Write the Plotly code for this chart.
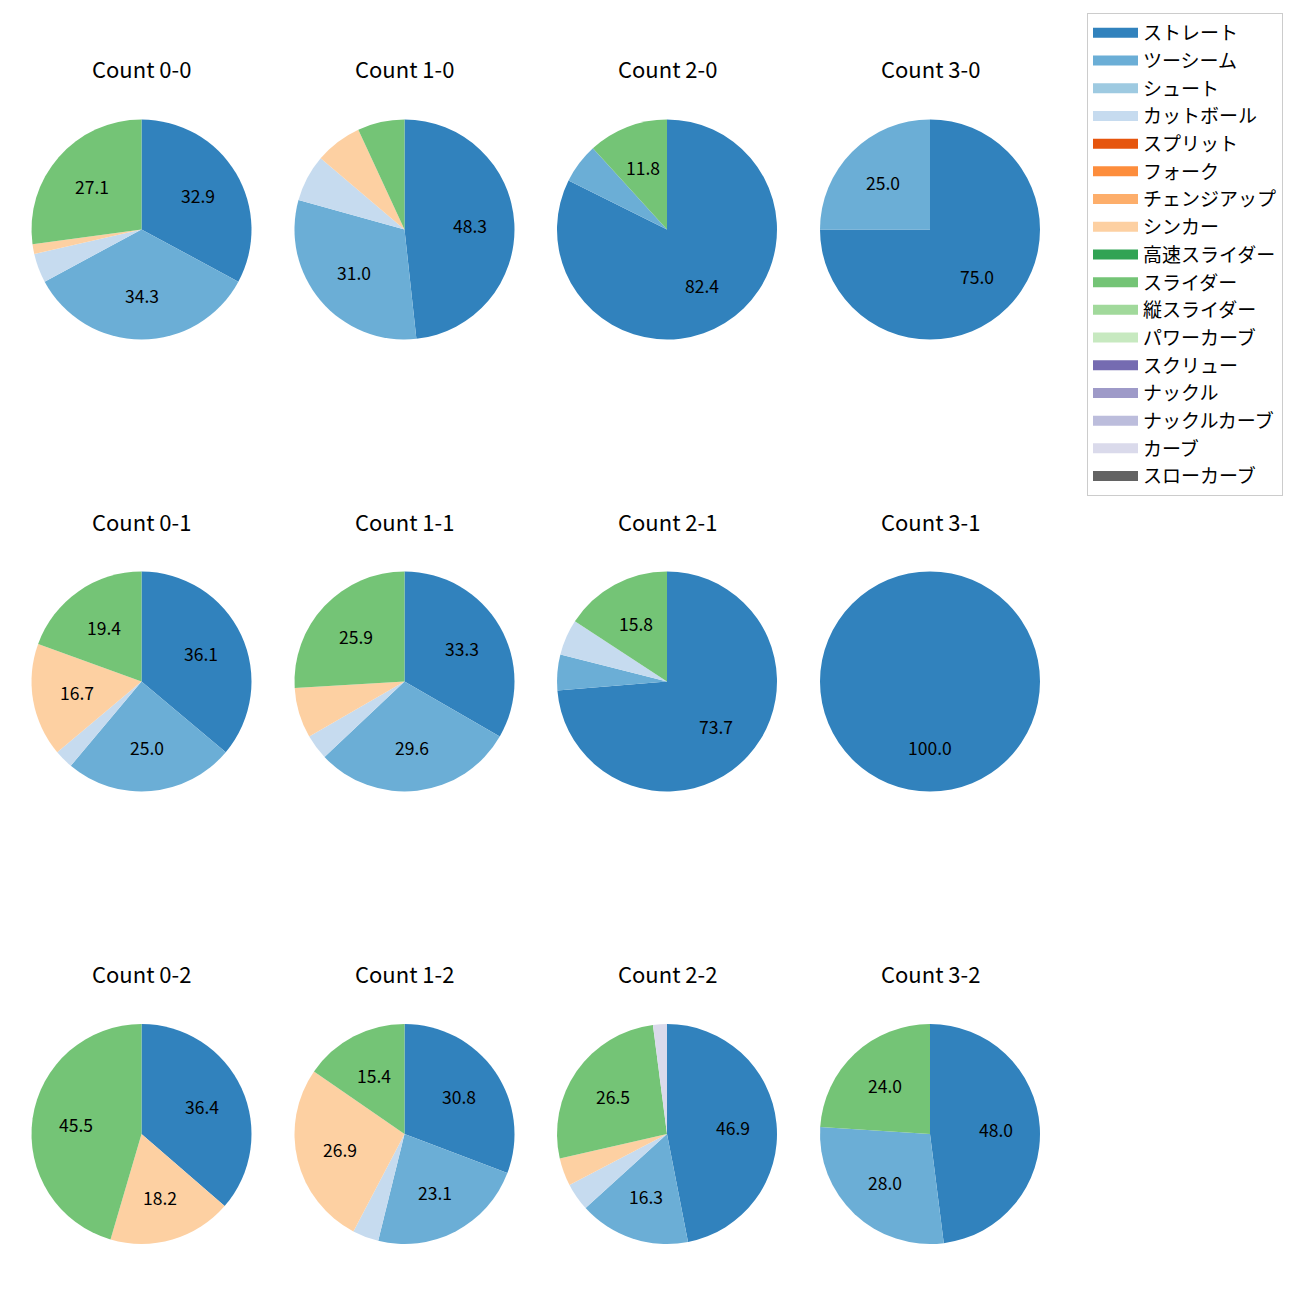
import math
import plotly.graph_objects as go

pitch_types = ["ストレート", "ツーシーム", "シュート", "カットボール", "スプリット", "フォーク",
               "チェンジアップ", "シンカー", "高速スライダー", "スライダー", "縦スライダー",
               "パワーカーブ", "スクリュー", "ナックル", "ナックルカーブ", "カーブ", "スローカーブ"]
colors = ["#3182bd", "#6baed6", "#9ecae1", "#c6dbef", "#e6550d", "#fd8d3c", "#fdae6b",
          "#fdd0a2", "#31a354", "#74c476", "#a1d99b", "#c7e9c0", "#756bb1", "#9e9ac8",
          "#bcbddc", "#dadaeb", "#636363"]

counts = ["0-0", "1-0", "2-0", "3-0",
          "0-1", "1-1", "2-1", "3-1",
          "0-2", "1-2", "2-2", "3-2"]

# pitch counts per type (order follows pitch_types)
c_0_0 = [23, 24, 0, 3, 0, 0, 0, 1, 0, 19, 0, 0, 0, 0, 0, 0, 0]
c_1_0 = [14, 9, 0, 2, 0, 0, 0, 2, 0, 2, 0, 0, 0, 0, 0, 0, 0]
c_2_0 = [14, 1, 0, 0, 0, 0, 0, 0, 0, 2, 0, 0, 0, 0, 0, 0, 0]
c_3_0 = [3, 1, 0, 0, 0, 0, 0, 0, 0, 0, 0, 0, 0, 0, 0, 0, 0]
c_0_1 = [13, 9, 0, 1, 0, 0, 0, 6, 0, 7, 0, 0, 0, 0, 0, 0, 0]
c_1_1 = [9, 8, 0, 1, 0, 0, 0, 2, 0, 7, 0, 0, 0, 0, 0, 0, 0]
c_2_1 = [14, 1, 0, 1, 0, 0, 0, 0, 0, 3, 0, 0, 0, 0, 0, 0, 0]
c_3_1 = [5, 0, 0, 0, 0, 0, 0, 0, 0, 0, 0, 0, 0, 0, 0, 0, 0]
c_0_2 = [4, 0, 0, 0, 0, 0, 0, 2, 0, 5, 0, 0, 0, 0, 0, 0, 0]
c_1_2 = [8, 6, 0, 1, 0, 0, 0, 7, 0, 4, 0, 0, 0, 0, 0, 0, 0]
c_2_2 = [23, 8, 0, 2, 0, 0, 0, 2, 0, 13, 0, 0, 0, 0, 0, 1, 0]
c_3_2 = [12, 7, 0, 0, 0, 0, 0, 0, 0, 6, 0, 0, 0, 0, 0, 0, 0]

all_counts = [c_0_0, c_1_0, c_2_0, c_3_0, c_0_1, c_1_1, c_2_1, c_3_1,
              c_0_2, c_1_2, c_2_2, c_3_2]

OFF = 8  # page body margin
W = H = 1292
col_cx = [141.5 - OFF, 404.5 - OFF, 667 - OFF, 930 - OFF]
row_cy = [229.5 - OFF, 681.5 - OFF, 1134 - OFF]
R = 110
FONT = "Noto Sans CJK JP"

fig = go.Figure()
annotations = []
for idx, (cnt, vals) in enumerate(zip(counts, all_counts)):
    r, c = divmod(idx, 4)
    cx, cy = col_cx[c], row_cy[r]
    fig.add_trace(go.Pie(
        labels=pitch_types, values=vals, sort=False, direction="clockwise", rotation=0,
        marker=dict(colors=colors, line=dict(width=0)),
        textinfo="none", hoverinfo="label+percent",
        domain=dict(x=[(cx - R) / W, (cx + R) / W], y=[1 - (cy + R) / H, 1 - (cy - R) / H]),
        showlegend=False,
    ))
    annotations.append(dict(text=f"Count {cnt}", x=cx / W, y=1 - (cy - 161) / H,
                            xref="paper", yref="paper", showarrow=False,
                            xanchor="center", yanchor="middle",
                            font=dict(family=FONT, size=22, color="black")))
    total = sum(vals)
    cum = 0
    for v in vals:
        if v == 0:
            continue
        pct = 100 * v / total
        if pct >= 10:
            ang = math.radians(90 - 360 * (cum + v / 2) / total)
            px = cx + 0.6 * R * math.cos(ang)
            py = cy - 0.6 * R * math.sin(ang)
            annotations.append(dict(text=f"{pct:.1f}", x=px / W, y=1 - py / H,
                                    xref="paper", yref="paper", showarrow=False,
                                    xanchor="center", yanchor="middle",
                                    font=dict(family=FONT, size=17.5, color="black")))
        cum += v

# legend entries (one per pitch type)
for name, col in zip(pitch_types, colors):
    fig.add_trace(go.Scatter(x=[None], y=[None], mode="lines", name=name,
                             line=dict(color=col, width=13), legendgroup=name,
                             showlegend=True, hoverinfo="skip"))

fig.update_layout(
    width=W, height=H, margin=dict(l=0, r=0, t=0, b=0),
    paper_bgcolor="white", plot_bgcolor="rgba(0,0,0,0)",
    xaxis=dict(visible=False), yaxis=dict(visible=False),
    annotations=annotations,
    legend=dict(x=(1283 - OFF) / W, y=1 - (13 - OFF) / H, xanchor="right", yanchor="top",
                bordercolor="#cccccc", borderwidth=1, bgcolor="white",
                itemwidth=45, tracegroupgap=0, itemsizing="trace",
                font=dict(family=FONT, size=19, color="black"), traceorder="normal"),
)
fig.write_html("out.html")
